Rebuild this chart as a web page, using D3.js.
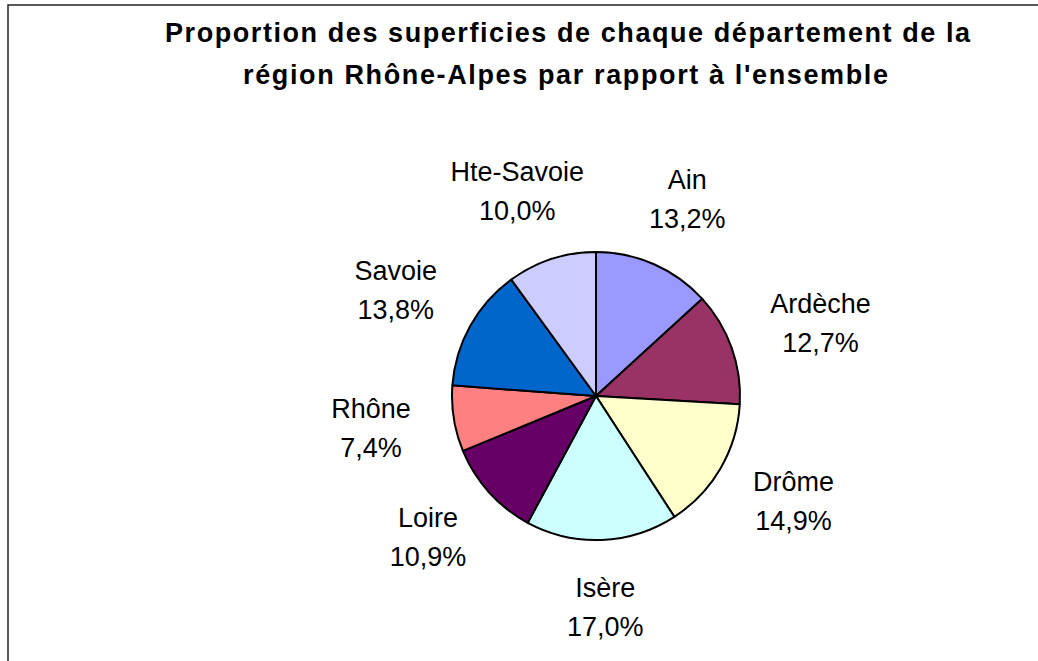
<!DOCTYPE html>
<html>
<head>
<meta charset="utf-8">
<script src="https://cdn.jsdelivr.net/npm/d3@7"></script>
<style>
  body { margin: 0; background: #fff; }
  svg { display: block; }
  text { font-family: "Liberation Sans", Arial, sans-serif; fill: #000; }
</style>
</head>
<body>
<svg width="1038" height="661"></svg>
<script>
var departements = ["Ain", "Ardèche", "Drôme", "Isère", "Loire", "Rhône", "Savoie", "Hte-Savoie"];
var parts = [13.2, 12.7, 14.9, 17.0, 10.9, 7.4, 13.8, 10.0];
var couleurs = ["#9999FF", "#993366", "#FFFFCC", "#CCFFFF", "#660066", "#FF8080", "#0066CC", "#CCCCFF"];
var titre = ["Proportion des superficies de chaque département de la",
             "région Rhône-Alpes  par rapport à l'ensemble"];

var svg = d3.select("svg"),
    width = +svg.attr("width"),
    height = +svg.attr("height");

// cadre (ouvert à droite et en bas, comme la capture)
svg.append("rect")
    .attr("x", 8).attr("y", 5)
    .attr("width", 1200).attr("height", 800)
    .attr("fill", "none")
    .attr("stroke", "#222")
    .attr("stroke-width", 1.5);

// titre
var titleWidths = [805, 645];
svg.append("g").selectAll("text")
    .data(titre)
    .enter().append("text")
    .attr("x", function (d, i) { return i === 0 ? 165 : 243; })
    .attr("y", function (d, i) { return 42 + i * 42; })
    .attr("textLength", function (d, i) { return titleWidths[i]; })
    .attr("lengthAdjust", "spacing")
    .style("font-size", "27px")
    .style("font-weight", "bold")
    .text(function (d) { return d; });

var cx = 596, cy = 396, radius = 144;

var pie = d3.pie().sort(null).value(function (d) { return d; });
var arcs = pie(parts);
var arc = d3.arc().innerRadius(0).outerRadius(radius);

var g = svg.append("g").attr("transform", "translate(" + cx + "," + cy + ")");

g.selectAll("path")
    .data(arcs)
    .enter().append("path")
    .attr("d", arc)
    .attr("fill", function (d, i) { return couleurs[i]; })
    .attr("stroke", "#000")
    .attr("stroke-width", 2)
    .attr("stroke-linejoin", "round");

var fmt = function (v) { return d3.format(".1f")(v).replace(".", ",") + "%"; };

var labels = g.selectAll("g.label")
    .data(arcs)
    .enter().append("g")
    .attr("class", "label");

labels.append("text")
    .attr("class", "nom")
    .attr("text-anchor", "middle")
    .style("font-size", "27px")
    .text(function (d, i) { return departements[i]; });

labels.append("text")
    .attr("class", "pct")
    .attr("text-anchor", "middle")
    .attr("y", 39)
    .style("font-size", "27px")
    .text(function (d) { return fmt(d.value); });

var R0 = 188, boxH = 50;
labels.attr("transform", function (d) {
    var a = (d.startAngle + d.endAngle) / 2;
    var w = this.getBBox().width;
    var sx = Math.sin(a), sy = -Math.cos(a);
    var x = R0 * sx + sx * w / 2;
    var y = R0 * sy + sy * boxH / 2;
    // centre du bloc -> ligne de base de la première ligne
    return "translate(" + x + "," + (y - 12) + ")";
});
</script>
</body>
</html>
